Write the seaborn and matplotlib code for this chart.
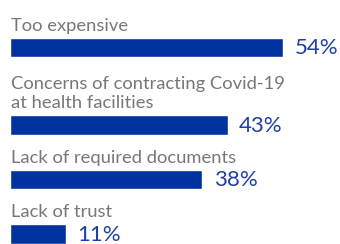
import numpy as np
import pandas as pd
import seaborn as sns
import matplotlib.pyplot as plt

# Data
reasons = ["Too expensive",
           "Concerns of contracting Covid-19\nat health facilities",
           "Lack of required documents",
           "Lack of trust"]
shares = [54, 43, 38, 11]

bar_blue = "#0033a0"
text_grey = "#777777"

sns.set_theme(style="white")
plt.rcParams['font.family'] = ['Lato', 'DejaVu Sans']

# vertical layout in pixel units: each row gets room for its label lines
line_h = 23
centers = []
c = 47.5 - line_h - 31.5
for r in reasons:
    c = c + line_h * (r.count("\n") + 1) + 31.5
    centers.append(c)

df = pd.DataFrame({"reason": reasons, "share": shares, "pos": centers})

fig = plt.figure(figsize=(3.4, 2.44), dpi=100)
ax = fig.add_axes([0, 0, 1, 1])

sns.barplot(data=df, x="share", y="pos", orient="h", native_scale=True,
            color=bar_blue, saturation=1, width=19 / 54, ax=ax)

for _, row in df.iterrows():
    ax.text(0.1, row["pos"] - 9.5 - 4.5, row["reason"], ha="left", va="bottom",
            fontsize=13.2, color=text_grey, linespacing=1.2)
    ax.text(row["share"] + 2.3, row["pos"] + 1, f"{row['share']}%", ha="left",
            va="center", fontsize=16, color="#1f3fa6")

ax.set_xlim(-10 / 5.06, 330 / 5.06)
ax.set_ylim(244, 0)
ax.set_axis_off()

fig.savefig("out.png", dpi=100)
